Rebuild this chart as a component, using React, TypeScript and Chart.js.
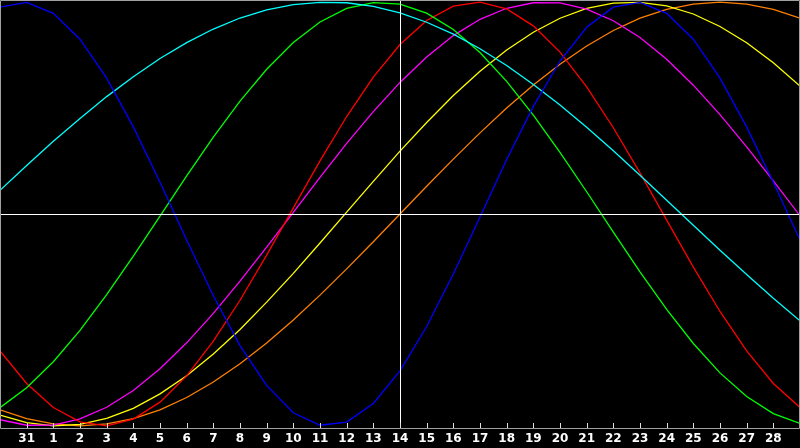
import React, { useEffect, useRef } from 'react'
import { Chart, registerables } from 'chart.js'

Chart.register(...registerables)

// x positions: -1 and 29 are the half-visible days at the edges
const days = [-1, 0, 1, 2, 3, 4, 5, 6, 7, 8, 9, 10, 11, 12, 13, 14, 15, 16, 17, 18, 19, 20, 21, 22, 23, 24, 25, 26, 27, 28, 29]
const dayLabels = ['31', '1', '2', '3', '4', '5', '6', '7', '8', '9', '10', '11', '12', '13', '14', '15', '16', '17', '18', '19', '20', '21', '22', '23', '24', '25', '26', '27', '28']
const markerDay = 14

const blueSeries = [0.976, 0.999, 0.947, 0.825, 0.641, 0.411, 0.15, -0.123, -0.386, -0.621, -0.809, -0.938, -0.997, -0.982, -0.894, -0.74, -0.531, -0.283, -0.014, 0.257, 0.508, 0.722, 0.881, 0.976, 0.999, 0.947, 0.825, 0.641, 0.411, 0.15, -0.123]
const greenSeries = [-0.914, -0.82, -0.697, -0.549, -0.38, -0.199, -0.01, 0.18, 0.363, 0.533, 0.683, 0.809, 0.906, 0.97, 0.998, 0.991, 0.948, 0.871, 0.762, 0.626, 0.467, 0.291, 0.105, -0.086, -0.273, -0.45, -0.611, -0.75, -0.861, -0.942, -0.988]
const redSeries = [-0.646, -0.8, -0.913, -0.981, -1.0, -0.968, -0.888, -0.764, -0.6, -0.407, -0.194, 0.029, 0.251, 0.46, 0.646, 0.8, 0.913, 0.981, 1.0, 0.968, 0.888, 0.764, 0.6, 0.407, 0.194, -0.029, -0.251, -0.46, -0.646, -0.8, -0.913]
const magentaSeries = [-0.971, -0.997, -0.996, -0.967, -0.912, -0.833, -0.73, -0.608, -0.469, -0.317, -0.156, 0.008, 0.173, 0.333, 0.483, 0.621, 0.741, 0.842, 0.919, 0.971, 0.997, 0.996, 0.967, 0.912, 0.833, 0.73, 0.608, 0.469, 0.317, 0.156, -0.008]
const yellowSeries = [-0.949, -0.985, -1.0, -0.993, -0.965, -0.917, -0.849, -0.763, -0.661, -0.545, -0.416, -0.28, -0.137, 0.009, 0.154, 0.297, 0.432, 0.559, 0.674, 0.774, 0.858, 0.924, 0.97, 0.995, 0.999, 0.982, 0.944, 0.885, 0.808, 0.714, 0.604]
const orangeSeries = [-0.924, -0.966, -0.991, -1.0, -0.991, -0.966, -0.924, -0.866, -0.793, -0.707, -0.609, -0.5, -0.383, -0.259, -0.131, 0, 0.131, 0.259, 0.383, 0.5, 0.609, 0.707, 0.793, 0.866, 0.924, 0.966, 0.991, 1.0, 0.991, 0.966, 0.924]
const cyanSeries = [0.112, 0.229, 0.343, 0.451, 0.554, 0.648, 0.734, 0.809, 0.873, 0.925, 0.963, 0.988, 0.999, 0.997, 0.98, 0.949, 0.905, 0.849, 0.78, 0.701, 0.611, 0.514, 0.409, 0.298, 0.183, 0.065, -0.053, -0.171, -0.286, -0.398, -0.504]

const toPoints = (values: number[]) => values.map((v, i) => ({ x: days[i], y: v }))

const line = (values: number[], color: string) => ({
  data: toPoints(values),
  borderColor: color,
  backgroundColor: color,
  borderWidth: 1.3,
  pointRadius: 0,
  tension: 0,
  fill: false,
})

const framePlugin = {
  id: 'frame',
  beforeDraw(chart: any) {
    const { ctx, width, height } = chart
    ctx.save()
    ctx.fillStyle = '#000'
    ctx.fillRect(0, 0, width, height)
    ctx.restore()
  },
  afterDatasetsDraw(chart: any) {
    // white cross: the marked day and the zero line
    const { ctx, chartArea } = chart
    const px = Math.round(chart.scales.x.getPixelForValue(markerDay)) + 0.5
    const py = Math.round(chart.scales.y.getPixelForValue(0)) + 0.5
    ctx.save()
    ctx.strokeStyle = '#ffffff'
    ctx.lineWidth = 1
    ctx.beginPath()
    ctx.moveTo(px, chartArea.top)
    ctx.lineTo(px, chartArea.bottom)
    ctx.moveTo(chartArea.left, py)
    ctx.lineTo(chartArea.right, py)
    ctx.stroke()
    ctx.restore()
  },
  afterDraw(chart: any) {
    const { ctx, chartArea } = chart
    const xScale = chart.scales.x
    ctx.save()
    ctx.strokeStyle = '#a0a0a0'
    ctx.lineWidth = 1
    ctx.beginPath()
    ctx.moveTo(0.5, chartArea.bottom + 0.5)
    ctx.lineTo(0.5, 0.5)
    ctx.lineTo(chartArea.right - 0.5, 0.5)
    ctx.lineTo(chartArea.right - 0.5, chartArea.bottom + 0.5)
    ctx.lineTo(0.5, chartArea.bottom + 0.5)
    ctx.stroke()
    // small tick marks pointing up from the axis
    ctx.strokeStyle = '#e0e0e0'
    ctx.beginPath()
    dayLabels.forEach((_, i) => {
      const px = Math.round(xScale.getPixelForValue(i)) + 0.5
      ctx.moveTo(px, chartArea.bottom - 5)
      ctx.lineTo(px, chartArea.bottom)
    })
    ctx.stroke()
    ctx.restore()
  },
}

export default function App() {
  const canvasRef = useRef<HTMLCanvasElement>(null)

  useEffect(() => {
    if (!canvasRef.current) return
    const chart = new Chart(canvasRef.current, {
      type: 'line',
      data: {
        datasets: [
          line(blueSeries, '#0000ff'),
          line(cyanSeries, '#00ffff'),
          line(greenSeries, '#00ff00'),
          line(redSeries, '#ff0000'),
          line(magentaSeries, '#ff00ff'),
          line(yellowSeries, '#ffff00'),
          line(orangeSeries, '#ff8000'),
        ] as any,
      },
      options: {
        animation: false,
        responsive: true,
        maintainAspectRatio: false,
        layout: { padding: 0 },
        plugins: {
          legend: { display: false },
          tooltip: { enabled: false },
        },
        scales: {
          x: {
            type: 'linear',
            min: -1,
            max: 29,
            grid: { display: false, drawTicks: false },
            border: { display: false },
            afterFit: (scale: any) => {
              scale.height = 20
              scale.paddingLeft = 0
              scale.paddingRight = 0
            },
            ticks: {
              stepSize: 1,
              autoSkip: false,
              maxRotation: 0,
              padding: 4,
              color: '#ffffff',
              font: { family: 'DejaVu Sans', size: 12, weight: 'bold' },
              callback: (v: any) => dayLabels[v] ?? '',
            },
          },
          y: {
            display: false,
            min: -1.01,
            max: 1.01,
          },
        },
      },
      plugins: [framePlugin],
    })
    return () => chart.destroy()
  }, [])

  return (
    <div style={{ position: 'fixed', left: 0, top: 0, width: 800, height: 448, background: '#000' }}>
      <canvas ref={canvasRef}></canvas>
    </div>
  )
}
